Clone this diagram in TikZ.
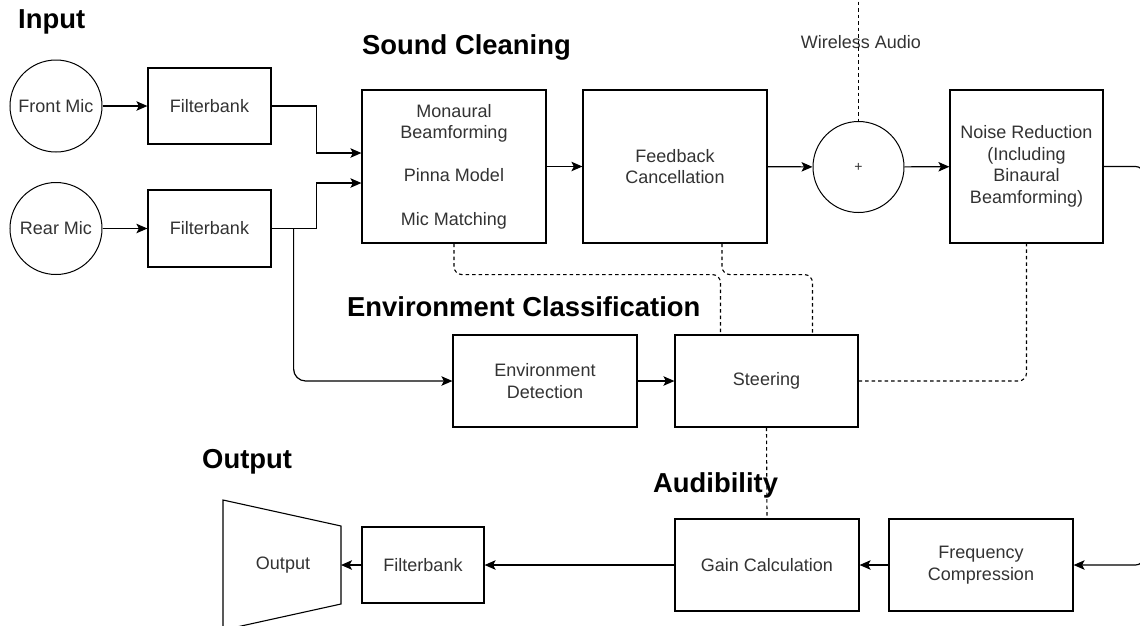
\documentclass[tikz,border=0pt]{standalone}
\usepackage{fontspec}
\setmainfont{Liberation Sans}
\usetikzlibrary{arrows.meta}
\definecolor{txt}{HTML}{333333}
\begin{document}
\begin{tikzpicture}[x=1pt,y=-1pt,
  every node/.style={font=\fontsize{18}{21.6}\selectfont, text=txt},
  box/.style={draw=black, line width=1.2pt, align=center, inner sep=0pt},
  circ/.style={draw=black, circle, line width=1pt, inner sep=0pt, minimum size=92pt, align=center},
  title/.style={font=\fontsize{27.4}{30}\selectfont\bfseries, text=black, inner sep=0pt, anchor=base west},
  arr/.style={line width=1.2pt, -{Stealth[length=11pt,width=9.5pt,inset=2.5pt]}},
  dsh/.style={line width=1.1pt, draw=black, dash pattern=on 3.5pt off 3pt, rounded corners=8pt}]
\clip (0,0) rectangle (1140,625);
\fill[white] (0,0) rectangle (1140,625);

% titles
\node[title] (tin) at (18,28) {Input};
\node[title] (tsc) at (362,54.5) {Sound Cleaning};
\node[title] (tec) at (347,316.5) {Environment Classification};
\node[title] (tout) at (202,468) {Output};
\node[title] (taud) at (653,492.5) {Audibility};

% input
\node[circ] (fm) at (56,106) {Front Mic};
\node[circ] (rm) at (56,228.5) {Rear Mic};
\node[box, minimum width=123pt, minimum height=76pt] (fb1) at (209.5,106) {Filterbank};
\node[box, minimum width=123pt, minimum height=77pt] (fb2) at (209.5,228.5) {Filterbank};

% sound cleaning
\node[box, minimum width=184pt, minimum height=153pt] (mb) at (454,166.5)
  {Monaural\\Beamforming\\[21.6pt]Pinna Model\\[21.6pt]Mic Matching};
\node[box, minimum width=184pt, minimum height=153pt] (fc) at (675,166.5) {Feedback\\Cancellation};
\node[circ, minimum size=91pt] (plus) at (858.5,167) {\fontsize{14}{14}\selectfont +};
\node[box, minimum width=153pt, minimum height=153pt] (nr) at (1026.5,166.5)
  {Noise Reduction\\(Including\\Binaural\\Beamforming)};
\node[inner sep=0pt, anchor=base] (wa) at (861,48.3) {Wireless Audio};
\coordinate (wtop) at (858.5,-5);

% environment classification
\node[box, minimum width=184pt, minimum height=92pt] (ed) at (545,381) {Environment\\Detection};
\node[box, minimum width=183pt, minimum height=92pt] (st) at (766.5,381) {Steering};

% audibility / output
\node[box, minimum width=184pt, minimum height=92pt] (gc) at (767,565) {Gain Calculation};
\node[box, minimum width=184pt, minimum height=92pt] (fcomp) at (981,565) {Frequency\\Compression};
\node[box, minimum width=122pt, minimum height=76pt] (fb3) at (423,565) {Filterbank};
\draw[line width=1.1pt] (223,500) -- (341,526) -- (341,604) -- (223,630) -- cycle;
\node (outt) at (283,565) {Output};
\coordinate (outR) at (341,565);

% solid connectors
\draw[arr] (fm) -- (fb1);
\draw[arr] (rm) -- (fb2);
\draw[arr] (fb1.east) -- ++(45,0) |- ([yshift=13.5pt]mb.west);
\draw[arr] (fb2.east) -- ++(45,0) |- ([yshift=-16.5pt]mb.west);
\draw[arr, rounded corners=12pt] ([xshift=22pt]fb2.east) |- (ed.west);
\draw[arr] (mb) -- (fc);
\draw[arr] (fc) -- (plus);
\draw[arr] (plus) -- (nr);
\draw[arr, rounded corners=8pt] (nr.east) -- ++(40,0) |- (fcomp.east);
\draw[arr] (fcomp) -- (gc);
\draw[arr] (gc) -- (fb3);
\draw[arr] (fb3) -- (outR);
\draw[arr] (ed) -- (st);

% dashed connectors
\draw[dsh] (wtop) -- (plus.north);
\draw[dsh] (mb.south) -- ++(0,31) -| ([xshift=-46pt]st.north);
\draw[dsh] ([xshift=47pt]fc.south) -- ++(0,31) -| ([xshift=46pt]st.north);
\draw[dsh] (st.east) -| (nr.south);
\draw[dsh] (st.south) -- (gc.north);
\end{tikzpicture}
\end{document}
